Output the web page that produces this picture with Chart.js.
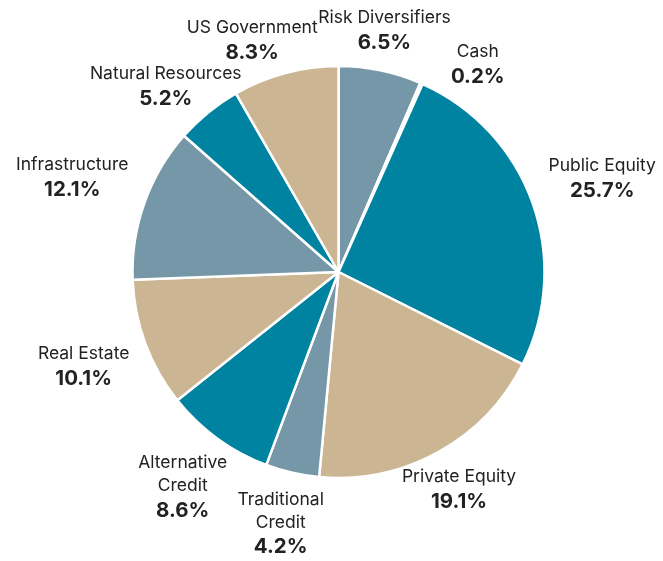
<!DOCTYPE html>
<html>
<head>
<meta charset="utf-8">
<script src="https://cdn.jsdelivr.net/npm/chart.js@4.4.1/dist/chart.umd.min.js"></script>
<style>
  html, body { margin: 0; padding: 0; background: #ffffff; }
  #wrap { width: 663px; height: 561px; position: relative; }
</style>
</head>
<body>
<div id="wrap"><canvas id="c" width="663" height="561"></canvas></div>
<script>
// ---- data ----
const categories = [
  ["Risk Diversifiers"],
  ["Cash"],
  ["Public Equity"],
  ["Private Equity"],
  ["Traditional", "Credit"],
  ["Alternative", "Credit"],
  ["Real Estate"],
  ["Infrastructure"],
  ["Natural Resources"],
  ["US Government"]
];
const values = [6.5, 0.2, 25.7, 19.1, 4.2, 8.6, 10.1, 12.1, 5.2, 8.3];
const valueLabels = values.map(v => v.toFixed(1) + '%');

// ---- styles ----
const GRAY = '#7597a7', TEAL = '#0083a1', TAN = '#cbb593';
const sliceColors = [GRAY, TEAL, TEAL, TAN, GRAY, TEAL, TAN, GRAY, TEAL, TAN];
const FONT = 'Inter, "Noto Sans", sans-serif';

const outsideLabels = {
  id: 'outsideLabels',
  afterDraw(chart) {
    const ctx = chart.ctx;
    const meta = chart.getDatasetMeta(0);
    const nameFont = '400 17.5px ' + FONT;
    const valFont = '700 20.5px ' + FONT;
    const lineH = 23, valGap = 25, pad = 17;
    const items = meta.data.map((arc, i) => {
      const p = arc.getProps(['x', 'y', 'startAngle', 'endAngle', 'outerRadius'], true);
      ctx.font = nameFont;
      let w = 0;
      categories[i].forEach(t => { w = Math.max(w, ctx.measureText(t).width); });
      ctx.font = valFont;
      w = Math.max(w, ctx.measureText(valueLabels[i]).width);
      const h = lineH * (categories[i].length - 1) + valGap + 20;
      return { i, cx: p.x, cy: p.y, R: p.outerRadius, ang: (p.startAngle + p.endAngle) / 2, w, h };
    });
    const place = it => {
      const c = Math.cos(it.ang), s = Math.sin(it.ang);
      const dx = Math.abs(c) > 1e-6 ? (it.w / 2) / Math.abs(c) : Infinity;
      const dy = Math.abs(s) > 1e-6 ? (it.h / 2) / Math.abs(s) : Infinity;
      const d = it.R + pad + Math.min(dx, dy);
      it.x = it.cx + c * d;
      it.y = it.cy + s * d;
    };
    items.forEach(place);
    const overlap = (a, b, m) =>
      Math.abs(a.x - b.x) < (a.w + b.w) / 2 + m && Math.abs(a.y - b.y) < (a.h + b.h) / 2 + m;
    for (let iter = 0; iter < 400; iter++) {
      let moved = false;
      for (let k = 0; k < items.length; k++) {
        const a = items[k], b = items[(k + 1) % items.length];
        if (overlap(a, b, 0)) {
          a.ang -= 0.004; b.ang += 0.004; moved = true;
          place(a); place(b);
        }
      }
      if (!moved) break;
    }
    ctx.save();
    ctx.textAlign = 'center';
    ctx.textBaseline = 'middle';
    ctx.fillStyle = '#222222';
    items.forEach(it => {
      const lines = categories[it.i];
      let y = it.y - it.h / 2 + 10;
      ctx.font = nameFont;
      lines.forEach((t, j) => { ctx.fillText(t, it.x, y + j * lineH); });
      ctx.font = valFont;
      ctx.fillText(valueLabels[it.i], it.x, y + (lines.length - 1) * lineH + valGap);
    });
    ctx.restore();
  }
};

new Chart(document.getElementById('c'), {
  type: 'pie',
  data: {
    labels: categories.map(c => c.join(' ')),
    datasets: [{
      data: values,
      backgroundColor: sliceColors,
      borderColor: '#ffffff',
      borderWidth: 2.5
    }]
  },
  options: {
    responsive: false,
    animation: false,
    radius: 206,
    layout: { padding: { left: 133, right: 119, top: 66, bottom: 83 } },
    plugins: {
      legend: { display: false },
      tooltip: { enabled: false },
      title: { display: false }
    }
  },
  plugins: [outsideLabels]
});
</script>
</body>
</html>
